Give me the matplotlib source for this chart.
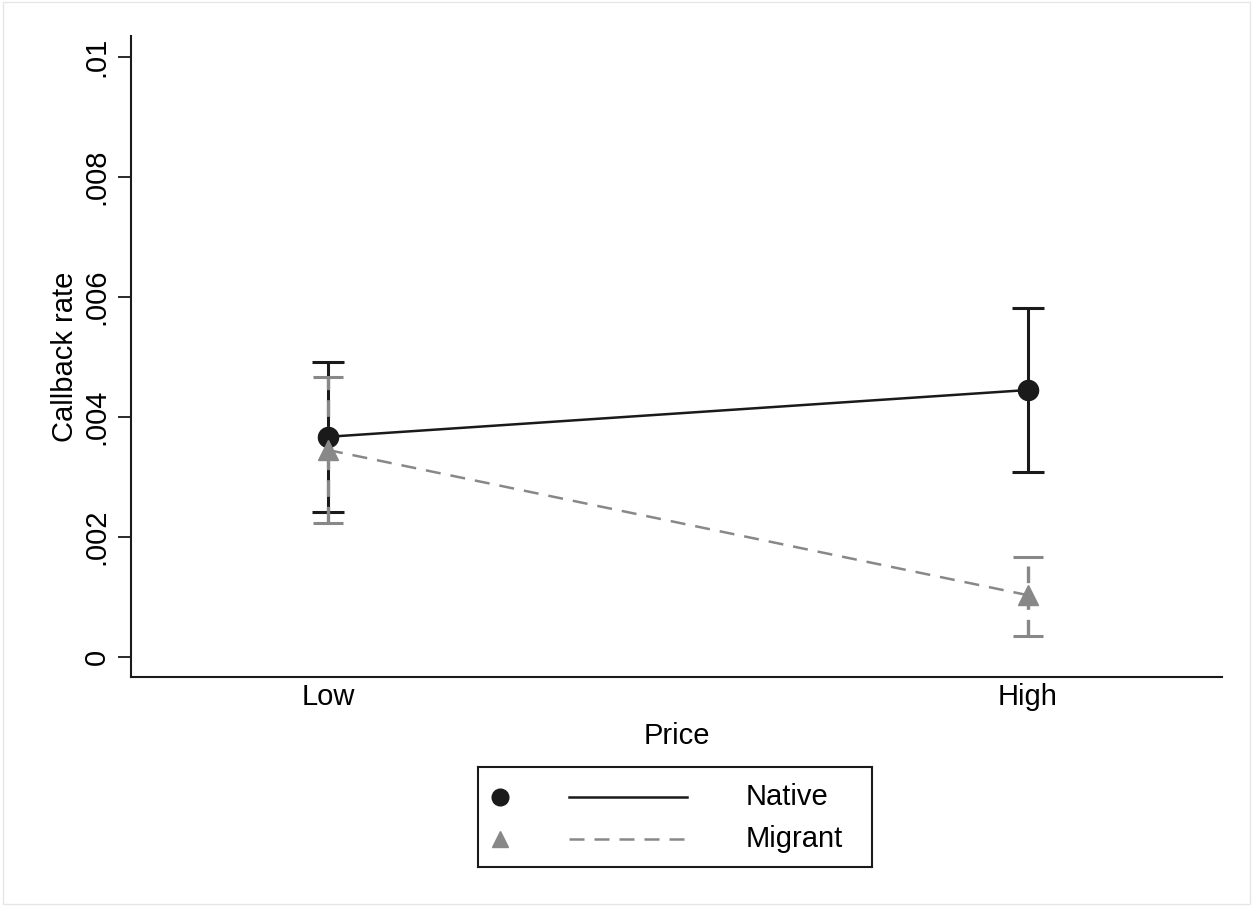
import matplotlib
matplotlib.use("Agg")
import matplotlib.pyplot as plt
from matplotlib.patches import Rectangle

plt.rcParams['font.family'] = ['Liberation Sans', 'DejaVu Sans']

categories = ["Low", "High"]
native = [0.00367, 0.00445]
native_lo = [0.00242, 0.00308]
native_hi = [0.00492, 0.00582]
migrant = [0.00345, 0.00103]
migrant_lo = [0.00223, 0.00035]
migrant_hi = [0.00467, 0.00167]
yticks = [0, 0.002, 0.004, 0.006, 0.008, 0.01]
ytick_labels = ["0", ".002", ".004", ".006", ".008", ".01"]

NAT = "#1a1a1a"
MIG = "#888888"
FS = 21

fig = plt.figure(figsize=(12.53, 9.06), dpi=100)
fig.patches.append(Rectangle((0.002, 0.002), 0.996, 0.996, transform=fig.transFigure,
                             fill=False, edgecolor="#e6e6e6", linewidth=1))
ax = fig.add_axes([131/1253, 1-677/906, (1222-131)/1253, (677-36)/906])

x = list(range(len(categories)))

# Native
ax.errorbar(x, native,
            yerr=[[n - l for n, l in zip(native, native_lo)], [h - n for n, h in zip(native, native_hi)]],
            fmt='none', ecolor=NAT, elinewidth=2.2, capsize=11.5, capthick=2.2, zorder=2)
ax.plot(x, native, color=NAT, linewidth=1.8, zorder=3)
ax.plot(x, native, 'o', color=NAT, markersize=14.5, zorder=5)

# Migrant
eb = ax.errorbar(x, migrant,
                 yerr=[[m - l for m, l in zip(migrant, migrant_lo)], [h - m for m, h in zip(migrant, migrant_hi)]],
                 fmt='none', ecolor=MIG, elinewidth=2.4, capsize=10.5, capthick=2.2, zorder=4)
for lc in eb.lines[2]:
    lc.set_linestyle((0, (5, 3)))
ax.plot(x, migrant, color=MIG, linewidth=1.8, linestyle=(0, (6, 4)), zorder=4)
ax.plot(x, migrant, '^', color=MIG, markersize=14.5, zorder=6)

ax.set_xlim((131-328)/700, (1222-328)/700)
ax.set_ylim((657-677)/60000, (657-36)/60000)
ax.set_xticks(x)
ax.set_xticklabels(categories, fontsize=FS)
ax.set_yticks(yticks)
ax.set_yticklabels(ytick_labels, fontsize=FS, rotation=90, va='center')
ax.tick_params(axis='y', direction='out', length=9.5, width=1.3, color='#1a1a1a', pad=5)
ax.tick_params(axis='x', length=0, pad=4)
for s in ['top', 'right']:
    ax.spines[s].set_visible(False)
for s in ['left', 'bottom']:
    ax.spines[s].set_linewidth(1.5)
    ax.spines[s].set_color('#1a1a1a')
ax.set_xlabel("Price", fontsize=FS, labelpad=8)
ax.set_ylabel("Callback rate", fontsize=FS, labelpad=3)

# Legend (Stata style)
lax = fig.add_axes([478/1253, 1-867/906, (872-478)/1253, (867-767)/906])
lax.set_xlim(478, 872)
lax.set_ylim(867, 767)
lax.set_xticks([]); lax.set_yticks([])
for s in lax.spines.values():
    s.set_linewidth(1.5); s.set_color('#1a1a1a')
lax.plot([500], [797], 'o', color=NAT, markersize=12)
lax.plot([569, 687], [797, 797], color=NAT, linewidth=1.8)
lax.text(746, 797, "Native", fontsize=FS, va='center', ha='left')
lax.plot([500], [839], '^', color=MIG, markersize=12)
lax.plot([569, 687], [839, 839], color=MIG, linewidth=1.8, linestyle=(0, (6, 4)))
lax.text(746, 839, "Migrant", fontsize=FS, va='center', ha='left')

fig.savefig("out.png", dpi=100)
